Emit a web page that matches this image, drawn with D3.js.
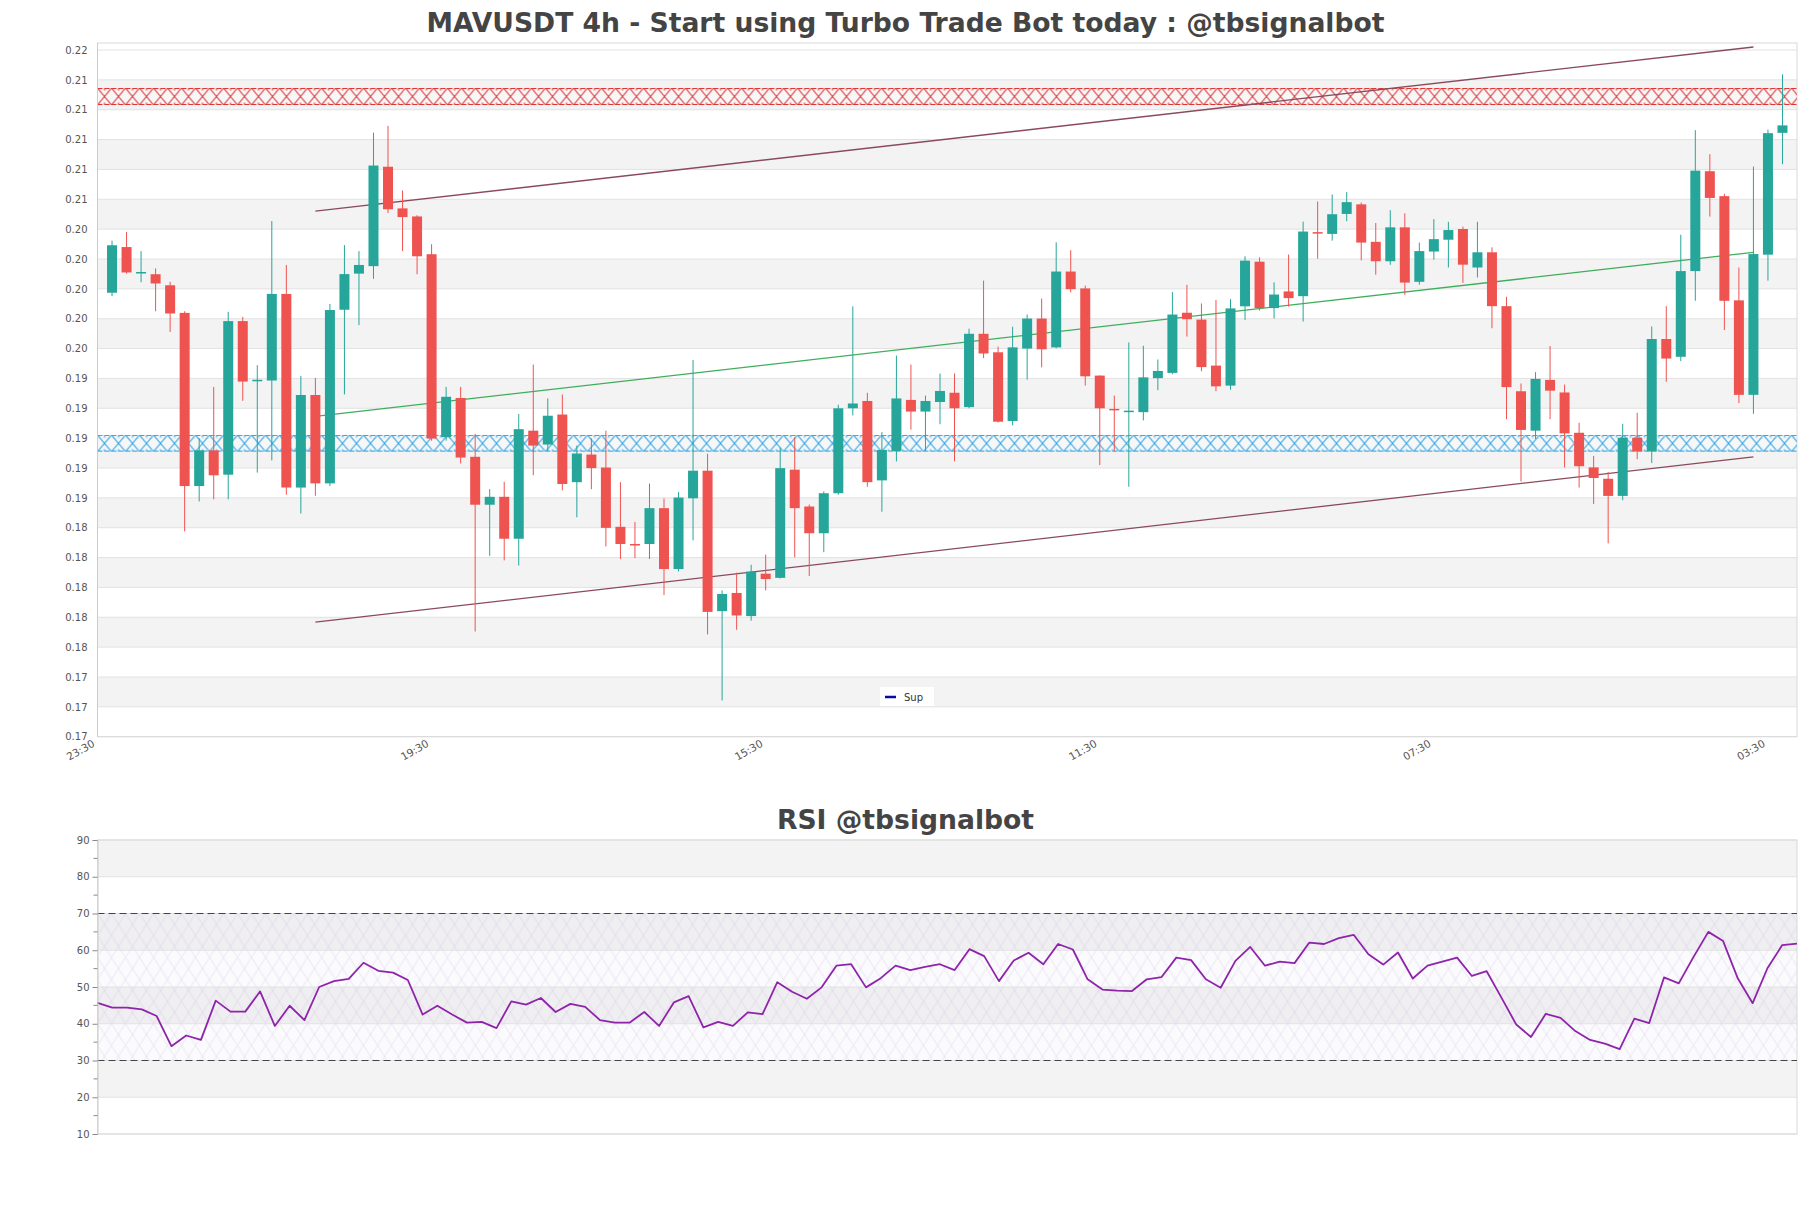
<!DOCTYPE html>
<html><head><meta charset="utf-8">
<script src="https://cdn.jsdelivr.net/npm/d3@7/dist/d3.min.js"></script>
<style>
html,body{margin:0;padding:0;background:#fff;}
svg{display:block;font-family:"DejaVu Sans",sans-serif;}
</style></head><body>
<svg id="chart" width="1811" height="1208"></svg>
<script>
// ---------------- DATA ----------------
const titleMain = "MAVUSDT 4h - Start using Turbo Trade Bot today : @tbsignalbot";
const titleRsi = "RSI @tbsignalbot";

// candles occupy slots 1..116 on a 118-slot category axis (slot 0 and 117 empty)
const slotCount = 118;
const firstCandleSlot = 1;

const candleOpen = [0.19974,0.20280,0.20110,0.20098,0.20024,0.19839,0.18679,0.18918,0.18755,0.19784,
0.19384,0.19386,0.19966,0.18669,0.19289,0.18697,0.19860,0.20102,0.20152,0.20818,
0.20539,0.20485,0.20232,0.19006,0.19269,0.18875,0.18554,0.18607,0.18326,0.19050,
0.18957,0.19158,0.18705,0.18890,0.18803,0.18406,0.18291,0.18291,0.18531,0.18123,
0.18597,0.18782,0.17841,0.17963,0.17808,0.18092,0.18064,0.18789,0.18542,0.18363,
0.18631,0.19200,0.19249,0.18717,0.18914,0.19256,0.19178,0.19242,0.19304,0.19208,
0.19699,0.19575,0.19115,0.19600,0.19801,0.19608,0.20116,0.20003,0.19419,0.19196,
0.19180,0.19174,0.19402,0.19437,0.19840,0.19794,0.19486,0.19352,0.19883,0.20182,
0.19871,0.19983,0.19951,0.20380,0.20368,0.20502,0.20566,0.20315,0.20185,0.20412,
0.20047,0.20250,0.20329,0.20401,0.20143,0.20245,0.19884,0.19314,0.19050,0.19390,
0.19306,0.19036,0.18804,0.18728,0.18613,0.19003,0.18912,0.19664,0.19545,0.20119,
0.20788,0.20621,0.19923,0.19290,0.20229,0.21045];
const candleHigh = [0.20323,0.20381,0.20253,0.20137,0.20047,0.19850,0.18998,0.19343,0.19846,0.19812,
0.19489,0.20454,0.20160,0.19417,0.19403,0.19899,0.20293,0.20253,0.21046,0.21092,
0.20659,0.20493,0.20299,0.19343,0.19343,0.19029,0.18659,0.18707,0.19161,0.19493,
0.19266,0.19292,0.18950,0.18998,0.19050,0.18705,0.18439,0.18696,0.18596,0.18638,
0.19524,0.18895,0.17980,0.18099,0.18152,0.18220,0.18937,0.19005,0.18555,0.18643,
0.19224,0.19883,0.19304,0.19040,0.19553,0.19493,0.19285,0.19433,0.19433,0.19733,
0.20055,0.19613,0.19746,0.19828,0.19935,0.20312,0.20259,0.20022,0.19420,0.19285,
0.19641,0.19619,0.19527,0.19979,0.20027,0.19902,0.19926,0.19931,0.20218,0.20211,
0.20044,0.20230,0.20450,0.20585,0.20632,0.20649,0.20578,0.20441,0.20527,0.20506,
0.20310,0.20467,0.20449,0.20417,0.20449,0.20278,0.19947,0.19366,0.19442,0.19617,
0.19359,0.19103,0.18881,0.18773,0.19096,0.19170,0.19748,0.19884,0.20362,0.21063,
0.20902,0.20637,0.20143,0.20819,0.21067,0.21437];
const candleLow = [0.19951,0.20102,0.20044,0.19850,0.19711,0.18375,0.18576,0.18590,0.18590,0.19250,
0.18769,0.18851,0.18621,0.18495,0.18614,0.18679,0.19293,0.19757,0.20067,0.20508,
0.20253,0.20098,0.18983,0.18983,0.18830,0.17705,0.18212,0.18181,0.18147,0.18751,
0.18913,0.18650,0.18470,0.18658,0.18274,0.18190,0.18196,0.18190,0.17949,0.18107,
0.18315,0.17685,0.17243,0.17716,0.17777,0.17980,0.18060,0.18201,0.18076,0.18236,
0.18621,0.19152,0.18674,0.18507,0.18844,0.19057,0.18914,0.19093,0.18844,0.19200,
0.19536,0.19105,0.19086,0.19392,0.19474,0.19602,0.19976,0.19352,0.18819,0.18909,
0.18674,0.19119,0.19321,0.19428,0.19680,0.19448,0.19314,0.19324,0.19792,0.19854,
0.19801,0.19881,0.19781,0.20202,0.20323,0.20453,0.20191,0.20095,0.20161,0.19959,
0.20028,0.20195,0.20143,0.20040,0.20076,0.19736,0.19127,0.18709,0.18995,0.19127,
0.18804,0.18669,0.18559,0.18295,0.18584,0.18859,0.18833,0.19378,0.19516,0.19920,
0.20484,0.19724,0.19235,0.19163,0.20055,0.20835];
const candleClose = [0.20292,0.20110,0.20113,0.20036,0.19835,0.18679,0.18918,0.18751,0.19784,0.19379,
0.19391,0.19966,0.18669,0.19289,0.18697,0.19858,0.20099,0.20160,0.20826,0.20533,
0.20481,0.20218,0.18997,0.19277,0.18870,0.18554,0.18607,0.18326,0.19060,0.18950,
0.19150,0.18693,0.18897,0.18799,0.18399,0.18291,0.18288,0.18531,0.18123,0.18602,
0.18782,0.17836,0.17956,0.17812,0.18106,0.18056,0.18799,0.18531,0.18363,0.18631,
0.19200,0.19232,0.18705,0.18921,0.19266,0.19178,0.19249,0.19316,0.19200,0.19699,
0.19567,0.19110,0.19608,0.19801,0.19595,0.20116,0.19998,0.19414,0.19200,0.19190,
0.19184,0.19407,0.19450,0.19828,0.19797,0.19476,0.19347,0.19869,0.20189,0.19871,
0.19962,0.19938,0.20384,0.20374,0.20500,0.20581,0.20310,0.20185,0.20412,0.20042,
0.20253,0.20333,0.20394,0.20162,0.20245,0.19884,0.19342,0.19055,0.19397,0.19318,
0.19032,0.18812,0.18733,0.18613,0.19003,0.18912,0.19664,0.19533,0.20119,0.20792,
0.20609,0.19920,0.19290,0.20233,0.21043,0.21095];

const xTickSlots = [0, 23, 46, 69, 92, 115];
const xTickLabels = ["23:30", "19:30", "15:30", "11:30", "07:30", "03:30"];
const yTickValues = [0.170,0.172,0.174,0.176,0.178,0.180,0.182,0.184,0.186,0.188,0.190,0.192,
0.194,0.196,0.198,0.200,0.202,0.204,0.206,0.208,0.210,0.212,0.214,0.216];

const resistanceZone = [0.21232, 0.21345];
const supportZone = [0.18910, 0.19020];

const trendSlots = [15, 114];
const channelUpper = [0.20520, 0.21620];
const channelLower = [0.17767, 0.18875];
const trendMiddle = [0.19146, 0.20245];

const legendLabels = ["Sup"];

const rsiValues = [45.7,44.4,44.4,43.9,42.1,33.9,36.8,35.6,46.3,43.3,
43.3,48.8,39.4,44.9,41.0,50.0,51.6,52.2,56.6,54.4,
53.9,51.9,42.5,44.9,42.5,40.3,40.5,38.8,46.1,45.2,
47.0,43.2,45.4,44.6,41.0,40.3,40.3,43.2,39.4,45.8,
47.5,39.0,40.5,39.4,43.1,42.6,51.3,48.7,46.8,49.9,
55.8,56.2,49.9,52.4,55.8,54.6,55.5,56.2,54.6,60.3,
58.4,51.6,57.2,59.3,56.2,61.7,60.2,52.1,49.3,49.0,
48.9,52.1,52.7,58.0,57.3,52.1,49.8,57.1,60.9,55.8,
56.9,56.5,62.1,61.7,63.3,64.2,58.9,56.1,59.4,52.3,
55.8,56.9,58.0,53.0,54.3,47.1,39.8,36.4,42.7,41.6,
38.0,35.6,34.6,33.1,41.4,40.2,52.6,51.0,58.2,65.0,
62.5,52.3,45.6,55.1,61.4,61.8];
const rsiTickValues = [10, 20, 30, 40, 50, 60, 70, 80, 90];
const rsiMinorTicks = [15, 25, 35, 45, 55, 65, 75, 85];
const rsiLevels = [30, 70];

// ---------------- LAYOUT / STYLE ----------------
const plotL = 97.5, plotR = 1797;
const mainFrameTop = 43;
const colUp = "#26a69a", colDown = "#ef5350";
const gridCol = "#e2e2e2", bandCol = "#f3f3f3", frameCol = "#d9d9d9";
const textCol = "#555";

const svg = d3.select("#chart");
const defs = svg.append("defs");

const x = d3.scaleLinear().domain([0, slotCount - 1]).range([plotL, plotR]);
const y = d3.scaleLinear().domain([0.170, 0.216]).range([736.7, 50]);

// title
svg.append("text").attr("x", 905.5).attr("y", 32).attr("text-anchor", "middle")
  .attr("font-size", 26.6).attr("font-weight", "bold").attr("fill", "#444").text(titleMain);

// bands
const main = svg.append("g");
const ticksAsc = yTickValues.slice().sort((a, b) => a - b);
for (let k = 0; k < ticksAsc.length - 1; k++) {
  if (k % 2 === 1) {
    main.append("rect").attr("x", plotL).attr("width", plotR - plotL)
      .attr("y", y(ticksAsc[k + 1])).attr("height", y(ticksAsc[k]) - y(ticksAsc[k + 1]))
      .attr("fill", bandCol);
  }
}
// gridlines
main.selectAll("line.grid").data(yTickValues).join("line").attr("class", "grid")
  .attr("x1", plotL).attr("x2", plotR).attr("y1", d => y(d)).attr("y2", d => y(d))
  .attr("stroke", gridCol).attr("stroke-width", 1);
// frame
main.append("rect").attr("x", plotL).attr("y", mainFrameTop).attr("width", plotR - plotL)
  .attr("height", y(0.170) - mainFrameTop).attr("fill", "none").attr("stroke", frameCol);

// hatch patterns for zones
function zonePattern(id, color, top, h) {
  const w = 14;
  const p = defs.append("pattern").attr("id", id).attr("patternUnits", "userSpaceOnUse")
    .attr("x", plotL).attr("y", top).attr("width", w).attr("height", h);
  p.append("rect").attr("width", w).attr("height", h).attr("fill", "#fff").attr("fill-opacity", 0.3);
  p.append("path").attr("d", `M0,0L${w},${h}M${w},0L0,${h}`).attr("stroke", color).attr("stroke-width", 1).attr("fill", "none");
  p.append("path").attr("d", `M${w/2},0V2.5M${w/2},${h}V${h-2.5}`).attr("stroke", color).attr("stroke-width", 1);
  p.append("path").attr("d", `M0,0.5H${w}M0,${h-0.5}H${w}`).attr("stroke", color).attr("stroke-width", 1.1).attr("stroke-dasharray", "5,2");
}
function drawZone(id, color, zone) {
  const top = y(zone[1]), h = y(zone[0]) - y(zone[1]);
  zonePattern(id, color, top, h);
  main.append("rect").attr("x", plotL).attr("y", top).attr("width", plotR - plotL).attr("height", h)
    .attr("fill", `url(#${id})`);
}
drawZone("hatchRed", "#dc2a2a", resistanceZone);
drawZone("hatchBlue", "#1d9be0", supportZone);

// trend lines
const trendDefs = [[channelUpper, "#8a4a5c"], [channelLower, "#8a4a5c"], [trendMiddle, "#3fae5a"]];
trendDefs.forEach(([vals, col]) => {
  main.append("line").attr("x1", x(trendSlots[0])).attr("y1", y(vals[0]))
    .attr("x2", x(trendSlots[1])).attr("y2", y(vals[1])).attr("stroke", col).attr("stroke-width", 1.3);
});

// candles
const candles = candleOpen.map((o, i) => ({
  slot: i + firstCandleSlot, o, h: candleHigh[i], l: candleLow[i], c: candleClose[i]
}));
const bodyW = 10;
const cg = main.append("g");
cg.selectAll("line.wick").data(candles).join("line").attr("class", "wick")
  .attr("x1", d => x(d.slot)).attr("x2", d => x(d.slot))
  .attr("y1", d => y(d.h)).attr("y2", d => y(d.l))
  .attr("stroke", d => d.c >= d.o ? colUp : colDown).attr("stroke-width", 1);
cg.selectAll("rect.body").data(candles).join("rect").attr("class", "body")
  .attr("x", d => x(d.slot) - bodyW / 2).attr("width", bodyW)
  .attr("y", d => y(Math.max(d.o, d.c)))
  .attr("height", d => Math.max(1.5, Math.abs(y(d.o) - y(d.c))))
  .attr("fill", d => d.c >= d.o ? colUp : colDown);

// y axis
const yAxis = d3.axisLeft(y).tickValues(yTickValues).tickFormat(d3.format(".2f")).tickSize(0).tickPadding(10);
const ya = svg.append("g").attr("transform", `translate(${plotL},0)`).call(yAxis);
ya.select(".domain").remove();
ya.selectAll("text").attr("font-size", 10).attr("fill", textCol).attr("font-family", "DejaVu Sans");
svg.append("line").attr("x1", plotL).attr("x2", plotL).attr("y1", mainFrameTop).attr("y2", y(0.170)).attr("stroke", "#ccc");

// x labels
const xl = svg.append("g");
xl.selectAll("text").data(xTickSlots).join("text")
  .attr("transform", d => `translate(${x(d) - 2},${y(0.170) + 9}) rotate(-30)`)
  .attr("text-anchor", "end").attr("font-size", 10.5).attr("fill", textCol)
  .text((d, i) => xTickLabels[i]);

// legend
const lg = svg.append("g");
lg.append("rect").attr("x", 880).attr("y", 687).attr("width", 54).attr("height", 19).attr("fill", "#fff");
lg.append("line").attr("x1", 885).attr("x2", 896).attr("y1", 697).attr("y2", 697).attr("stroke", "#0a0aa0").attr("stroke-width", 2.5);
lg.append("text").attr("x", 904).attr("y", 701).attr("font-size", 10).attr("fill", "#333").text(legendLabels[0]);

// ---------------- RSI ----------------
svg.append("text").attr("x", 905.5).attr("y", 829).attr("text-anchor", "middle")
  .attr("font-size", 26.6).attr("font-weight", "bold").attr("fill", "#444").text(titleRsi);

const rx = d3.scaleLinear().domain([0, rsiValues.length - 1]).range([plotL, plotR]);
const ry = d3.scaleLinear().domain([10, 90]).range([1134, 840]);
const rg = svg.append("g");
for (let k = 0; k < rsiTickValues.length - 1; k++) {
  const lo = rsiTickValues[k], hi = rsiTickValues[k + 1];
  if (k % 2 === 1) {
    rg.append("rect").attr("x", plotL).attr("width", plotR - plotL).attr("y", ry(hi))
      .attr("height", ry(lo) - ry(hi)).attr("fill", bandCol);
  }
}
// purple hatch between levels
const hp = defs.append("pattern").attr("id", "rsiHatch").attr("patternUnits", "userSpaceOnUse")
  .attr("x", plotL).attr("y", ry(rsiLevels[1])).attr("width", 14).attr("height", 22);
hp.append("path").attr("d", "M0,0L14,22M14,0L0,22").attr("stroke", "#bfaed2").attr("stroke-width", 0.5).attr("fill", "none").attr("opacity", 0.55);
rg.append("rect").attr("x", plotL).attr("width", plotR - plotL).attr("y", ry(rsiLevels[1]))
  .attr("height", ry(rsiLevels[0]) - ry(rsiLevels[1])).attr("fill", "#cdbfe0").attr("fill-opacity", 0.07);
rg.append("rect").attr("x", plotL).attr("width", plotR - plotL).attr("y", ry(rsiLevels[1]))
  .attr("height", ry(rsiLevels[0]) - ry(rsiLevels[1])).attr("fill", "url(#rsiHatch)");

rg.selectAll("line.grid").data(rsiTickValues).join("line").attr("class", "grid")
  .attr("x1", plotL).attr("x2", plotR).attr("y1", d => ry(d)).attr("y2", d => ry(d))
  .attr("stroke", gridCol);
rg.append("rect").attr("x", plotL).attr("y", ry(90)).attr("width", plotR - plotL).attr("height", ry(10) - ry(90))
  .attr("fill", "none").attr("stroke", frameCol);
rg.selectAll("line.lvl").data(rsiLevels).join("line").attr("class", "lvl")
  .attr("x1", plotL).attr("x2", plotR).attr("y1", d => ry(d)).attr("y2", d => ry(d))
  .attr("stroke", "#444").attr("stroke-width", 1.2).attr("stroke-dasharray", "7,4");

rg.append("path").datum(rsiValues)
  .attr("d", d3.line().x((d, i) => rx(i)).y(d => ry(d)))
  .attr("fill", "none").attr("stroke", "#8e24aa").attr("stroke-width", 1.8).attr("stroke-linejoin", "round");

// RSI y axis
const ryAxis = d3.axisLeft(ry).tickValues(rsiTickValues).tickSize(5).tickPadding(3);
const rya = svg.append("g").attr("transform", `translate(${plotL},0)`).call(ryAxis);
rya.select(".domain").attr("stroke", "#ccc");
rya.selectAll("line").attr("stroke", "#888");
rya.selectAll("text").attr("font-size", 10).attr("fill", textCol).attr("font-family", "DejaVu Sans");
svg.append("g").selectAll("line").data(rsiMinorTicks).join("line")
  .attr("x1", plotL - 4).attr("x2", plotL).attr("y1", d => ry(d)).attr("y2", d => ry(d)).attr("stroke", "#888");
</script>
</body></html>
